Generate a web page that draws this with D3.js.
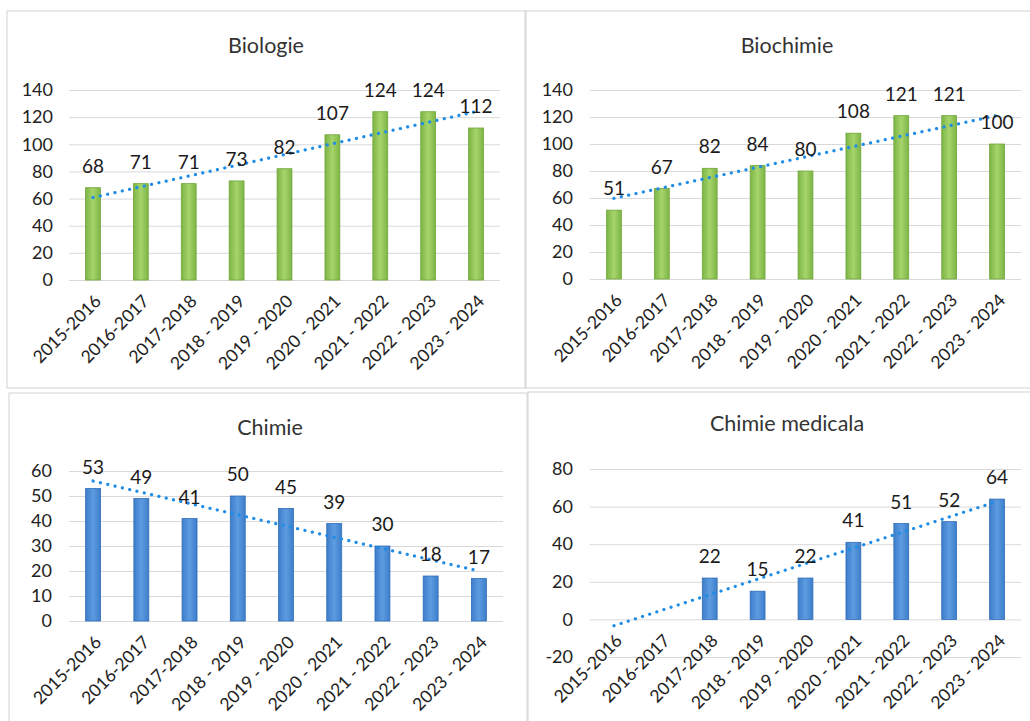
<!DOCTYPE html>
<html>
<head>
<meta charset="utf-8">
<script src="https://cdnjs.cloudflare.com/ajax/libs/d3/7.8.5/d3.min.js"></script>
<style>
  body { margin: 0; background: #fff; }
  svg { display: block; font-family: Lato, "Open Sans", sans-serif; }
</style>
</head>
<body>
<div id="container"></div>
<script>
var width = 1030;
var height = 721;

// data
const years = ["2015-2016", "2016-2017", "2017-2018", "2018 - 2019", "2019 - 2020",
  "2020 - 2021", "2021 - 2022", "2022 - 2023", "2023 - 2024"];
const biologie = [68, 71, 71, 73, 82, 107, 124, 124, 112];
const biochimie = [51, 67, 82, 84, 80, 108, 121, 121, 100];
const chimie = [53, 49, 41, 50, 45, 39, 30, 18, 17];
const chimieMedicala = [null, null, 22, 15, 22, 41, 51, 52, 64];
const ticksBio = [0, 20, 40, 60, 80, 100, 120, 140];
const ticksChimie = [0, 10, 20, 30, 40, 50, 60];
const ticksMed = [-20, 0, 20, 40, 60, 80];

// panel layout (box = frame, x0/x1 plot width, y range pixel for domain)
var panels = [
  { title: "Biologie", values: biologie, ticks: ticksBio, color: "green",
    box: [7, 11, 526, 388], titleX: 266, titleY: 53,
    x0: 69, x1: 500, domain: [0, 140], range: [280, 90], labelX: 53 },
  { title: "Biochimie", values: biochimie, ticks: ticksBio, color: "green",
    box: [525, 11, 1040, 388], titleX: 787, titleY: 53,
    x0: 590, x1: 1021, domain: [0, 140], range: [279, 90], labelX: 573 },
  { title: "Chimie", values: chimie, ticks: ticksChimie, color: "blue",
    box: [9, 393, 527, 740], titleX: 270, titleY: 435,
    x0: 69, x1: 503, domain: [0, 60], range: [621, 471], labelX: 52 },
  { title: "Chimie medicala", values: chimieMedicala, ticks: ticksMed, color: "blue",
    box: [528, 392, 1040, 740], titleX: 787, titleY: 431,
    x0: 590, x1: 1021, domain: [-20, 80], range: [657, 469], labelX: 573 }
];

var svg = d3.select("#container").append("svg")
  .attr("width", width)
  .attr("height", height);

var defs = svg.append("defs");
function grad(id, edge, mid) {
  var g = defs.append("linearGradient").attr("id", id)
    .attr("x1", "0%").attr("x2", "100%").attr("y1", "0%").attr("y2", "0%");
  g.append("stop").attr("offset", "0%").attr("stop-color", edge);
  g.append("stop").attr("offset", "50%").attr("stop-color", mid);
  g.append("stop").attr("offset", "100%").attr("stop-color", edge);
}
grad("green", "#7db545", "#a6d46c");
grad("blue", "#3d7ecb", "#5e9ce0");
var strokes = { green: "#6fa63a", blue: "#2f6db8" };

// least squares line, blank cells count as zero (like Excel did here)
function trend(vals) {
  var n = vals.length;
  var ys = vals.map(v => v == null ? 0 : v);
  var mx = (n + 1) / 2, my = d3.mean(ys);
  var num = d3.sum(ys, (y, i) => (i + 1 - mx) * (y - my));
  var den = d3.sum(ys, (y, i) => (i + 1 - mx) * (i + 1 - mx));
  var b = num / den, a = my - b * mx;
  return [a + b, a + b * n];
}

panels.forEach(function(p) {
  var g = svg.append("g");

  g.append("rect")
    .attr("x", p.box[0]).attr("y", p.box[1])
    .attr("width", p.box[2] - p.box[0]).attr("height", p.box[3] - p.box[1])
    .attr("fill", "none").attr("stroke", "#d2d2d2").attr("stroke-width", 1);

  g.append("text")
    .attr("x", p.titleX).attr("y", p.titleY)
    .attr("text-anchor", "middle")
    .attr("font-size", 21.5)
    .attr("fill", "#333")
    .text(p.title);

  var x = d3.scaleBand().domain(years).range([p.x0, p.x1])
    .paddingInner(0.69).paddingOuter(0.345);
  var y = d3.scaleLinear().domain(p.domain).range(p.range);

  // gridlines + y labels
  var yAxis = d3.axisLeft(y).tickValues(p.ticks)
    .tickFormat(d => String(d))
    .tickSize(-(p.x1 - p.x0)).tickPadding(p.x0 - p.labelX);
  var ag = g.append("g").attr("transform", "translate(" + p.x0 + ",0)").call(yAxis);
  ag.select(".domain").remove();
  ag.selectAll(".tick line").attr("stroke", "#d9d9d9");
  ag.selectAll(".tick text").attr("font-size", 18).attr("fill", "#222")
    .attr("font-family", "Lato, sans-serif");

  var data = years.map((c, i) => ({ cat: c, v: p.values[i] }));

  g.selectAll(".bar")
    .data(data.filter(d => d.v != null))
    .enter().append("rect")
    .attr("class", "bar")
    .attr("x", d => x(d.cat))
    .attr("width", x.bandwidth())
    .attr("y", d => y(d.v))
    .attr("height", d => y(0) - y(d.v))
    .attr("fill", "url(#" + p.color + ")")
    .attr("stroke", strokes[p.color])
    .attr("stroke-width", 0.8);

  // category labels, sitting under the zero line
  g.selectAll(".xlab")
    .data(years)
    .enter().append("text")
    .attr("class", "xlab")
    .attr("transform", d => "translate(" + (x(d) + x.bandwidth() / 2 + 5) + "," + (y(0) + 18) + ") rotate(-45)")
    .attr("text-anchor", "end")
    .attr("dy", "0.35em")
    .attr("font-size", 17.5)
    .attr("fill", "#222")
    .text(d => d);

  // trendline
  var t = trend(p.values);
  var line = d3.line().x(d => x(d[0]) + x.bandwidth() / 2).y(d => y(d[1]));
  g.append("path")
    .datum([[years[0], t[0]], [years[years.length - 1], t[1]]])
    .attr("d", line)
    .attr("fill", "none")
    .attr("stroke", "#1f8ce6")
    .attr("stroke-width", 3.2)
    .attr("stroke-linecap", "round")
    .attr("stroke-dasharray", "0.1 7.4");

  // value labels
  g.selectAll(".vlab")
    .data(data.filter(d => d.v != null))
    .enter().append("text")
    .attr("class", "vlab")
    .attr("x", d => x(d.cat) + x.bandwidth() / 2)
    .attr("y", d => y(d.v) - 15)
    .attr("text-anchor", "middle")
    .attr("font-size", 19)
    .attr("fill", "#1a1a1a")
    .text(d => d.v);
});
</script>
</body>
</html>
